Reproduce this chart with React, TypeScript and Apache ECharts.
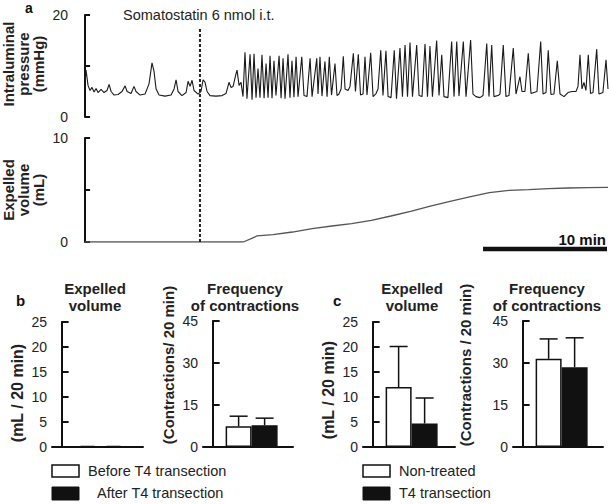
import React, { useEffect, useRef } from "react";
import * as echarts from "echarts";

const FONT = "'Liberation Sans', Arial, sans-serif";
const INK = "#111";

// ---------- Panel a ----------
// Intraluminal pressure trace: [time (min), pressure (mmHg)]
const pressureTrace: [number, number][] = [
  [0, 7.0], [0.08, 9.2], [0.24, 6.2], [0.4, 5.2], [0.56, 5.8], [0.73, 4.9], [0.89, 5.6], [1.05, 4.8],
  [1.29, 5.4], [1.53, 4.8], [1.77, 5.2], [1.94, 6.4], [2.1, 5.0], [2.34, 4.3], [2.66, 4.4], [2.98, 5.0],
  [3.23, 6.1], [3.39, 5.0], [3.71, 4.6], [3.95, 6.0], [4.11, 5.0], [4.44, 4.3], [4.84, 4.5], [5.16, 6.5],
  [5.4, 10.6], [5.56, 9.0], [5.73, 5.5], [5.97, 4.3], [6.45, 4.1], [6.94, 4.3], [7.18, 5.5], [7.34, 7.3],
  [7.5, 5.0], [7.82, 4.2], [8.15, 4.8], [8.31, 7.0], [8.47, 6.0], [8.63, 7.2], [8.79, 5.2], [9.11, 4.5],
  [9.35, 5.0], [9.52, 7.3], [9.68, 6.8], [9.84, 5.0], [10.08, 4.2], [10.56, 4.1], [11.05, 4.2], [11.37, 4.6],
  [11.61, 6.8], [11.77, 5.8], [11.94, 6.0], [12.18, 8.5], [12.26, 9.2], [12.42, 6.2], [12.58, 6.8],
  [12.74, 4.0], [12.9, 12.7], [13.06, 3.6], [13.31, 12.3], [13.47, 3.4], [13.63, 12.4], [13.79, 3.8],
  [13.95, 9.5], [14.11, 3.8], [14.27, 12.2], [14.44, 3.7], [14.6, 10.5], [14.76, 3.8], [14.92, 12.0],
  [15.08, 3.7], [15.24, 11.0], [15.4, 4.2], [15.65, 12.0], [15.81, 3.7], [15.97, 11.5], [16.13, 3.6],
  [16.37, 12.3], [16.53, 3.8], [16.69, 11.0], [16.85, 3.9], [17.02, 11.8], [17.18, 4.0],
  [17.48, 11.8], [17.66, 4.2], [17.9, 4.0], [18.15, 11.5], [18.31, 4.0], [18.69, 11.5], [18.79, 4.5],
  [18.95, 11.8], [19.11, 4.1], [19.35, 10.9], [19.52, 4.0], [19.7, 11.8], [19.88, 4.3], [20.16, 10.5],
  [20.32, 4.2], [20.48, 4.5], [20.65, 5.5], [20.83, 11.9], [20.97, 5.5], [21.21, 5.2], [21.37, 6.0],
  [21.64, 12.5], [21.81, 5.0], [22.04, 12.3], [22.22, 4.3], [22.42, 4.5], [22.58, 11.8], [22.74, 4.3],
  [23.04, 12.6], [23.23, 4.0], [23.47, 4.6], [23.63, 5.5], [23.85, 13.1], [24.03, 4.2], [24.27, 13.0],
  [24.44, 4.0], [24.68, 3.8], [24.94, 13.1], [25.12, 3.6], [25.4, 13.5], [25.6, 4.0], [25.81, 14.1],
  [26.01, 4.0], [26.21, 14.6], [26.41, 4.0], [26.75, 14.1], [26.94, 4.2], [27.18, 4.0], [27.42, 14.3],
  [27.62, 4.0], [27.82, 13.9], [28.02, 4.0], [28.36, 15.0], [28.55, 4.2], [28.77, 12.2], [28.95, 4.0],
  [29.27, 3.8], [29.57, 14.8], [29.76, 4.0], [29.98, 14.8], [30.16, 4.1], [30.51, 14.8], [30.73, 4.0],
  [31.1, 15.1], [31.29, 4.5], [31.53, 4.0], [31.85, 3.8], [32.1, 4.2], [32.4, 14.4], [32.58, 4.0],
  [32.8, 14.1], [32.98, 4.0], [33.31, 4.2], [33.47, 4.5], [33.73, 14.1], [33.95, 4.0], [34.19, 4.2],
  [34.54, 13.5], [34.76, 4.5], [35.08, 7.9], [35.24, 5.0], [35.48, 5.0], [35.75, 12.5], [35.97, 4.6],
  [36.21, 4.8], [36.45, 5.0], [36.75, 14.8], [36.94, 4.5], [37.18, 4.8], [37.36, 13.1], [37.58, 4.4],
  [37.82, 4.5], [38.09, 11.0], [38.31, 4.5], [38.63, 4.0], [38.95, 4.8], [39.27, 5.0], [39.6, 5.0],
  [39.76, 6.0], [39.92, 12.2], [40.08, 5.5], [40.24, 6.8], [40.4, 5.2], [40.59, 12.2], [40.77, 4.6],
  [40.97, 4.8], [41.27, 13.3], [41.45, 4.5], [41.77, 4.8], [42.02, 11.2], [42.18, 5.5],
];

// Cumulative expelled volume: [time (min), volume (mL)]
const volumeTrace: [number, number][] = [
  [0, 0], [12.77, 0], [13.88, 0.58], [15.15, 0.7], [16.73, 0.96], [18.32, 1.28], [19.91, 1.54],
  [21.5, 1.76], [23.09, 2.08], [24.67, 2.5], [26.26, 2.95], [27.85, 3.46], [29.44, 3.9], [31.02, 4.33],
  [32.61, 4.74], [34.2, 4.97], [35.78, 5.03], [37.37, 5.13], [38.96, 5.19], [40.55, 5.22], [42.18, 5.26],
];

const injectionTime = 9.27; // min
const injectionLabel = "Somatostatin 6 nmol i.t.";
const scaleBarStart = 32.1; // min
const scaleBarLength = 10; // min
const timeMin = -0.73;
const timeMax = 42.18;

// ---------- Panels b & c ----------
const bGroups = ["Before T4 transection", "After T4 transection"];
const bVolumeMean = [0.2, 0.25];
const bFreqMean = [7.4, 7.8];
const bFreqUpper = [11.0, 10.3];

const cGroups = ["Non-treated", "T4 transection"];
const cVolumeMean = [12.0, 4.7];
const cVolumeUpper = [20.1, 9.8];
const cFreqMean = [31.5, 28.5];
const cFreqUpper = [38.6, 39.0];

const groupPos = [1, 2];
const barFills = ["#ffffff", INK];

const tickLabel = { fontSize: 14, color: "#222", fontFamily: FONT };

function barGrid(idx: number, max: number, interval: number, width: number) {
  const xAxis = {
    gridIndex: idx, type: "value", min: -0.37, max: -0.37 + width / 26,
    axisLine: { show: true, onZero: false, lineStyle: { color: INK, width: 2 } },
    axisTick: { show: false }, axisLabel: { show: false }, splitLine: { show: false },
  };
  const yAxis = {
    gridIndex: idx, type: "value", min: 0, max, interval,
    axisLine: { show: true, lineStyle: { color: INK, width: 2 } },
    axisTick: { show: true, inside: true, length: 7, lineStyle: { color: INK, width: 2 } },
    axisLabel: { ...tickLabel, margin: 5 },
    splitLine: { show: false },
  };
  return { xAxis, yAxis };
}

function barSeries(idx: number, means: number[], barWidth: number) {
  return {
    type: "bar", xAxisIndex: idx, yAxisIndex: idx, barWidth,
    itemStyle: { borderColor: INK, borderWidth: 1.5 },
    data: means.map((m, i) => ({ value: [groupPos[i], m], itemStyle: { color: barFills[i] } })),
    z: 3,
  };
}

function errorSeries(idx: number, means: number[], uppers: number[]) {
  return {
    type: "custom", xAxisIndex: idx, yAxisIndex: idx, z: 4,
    encode: { x: 0, y: [1, 2] },
    data: means.map((m, i) => [groupPos[i], m, uppers[i]]),
    renderItem: (_p: any, api: any) => {
      const x = api.value(0), m = api.value(1), u = api.value(2);
      const p0 = api.coord([x, m]);
      const p1 = api.coord([x, u]);
      const st = { stroke: INK, lineWidth: 1.5 };
      return {
        type: "group",
        children: [
          { type: "line", shape: { x1: p0[0], y1: p0[1], x2: p1[0], y2: p1[1] }, style: st },
          { type: "line", shape: { x1: p1[0] - 9, y1: p1[1], x2: p1[0] + 9, y2: p1[1] }, style: st },
        ],
      };
    },
  };
}

function txt(x: number, y: number, text: string, opts: any = {}) {
  const { rotation, ...style } = opts;
  return {
    type: "text", x, y, rotation: rotation || 0, silent: true,
    style: {
      text, fill: "#222", fontFamily: FONT, fontSize: 14,
      align: "left", verticalAlign: "middle", textAlign: "left", textVerticalAlign: "middle",
      ...style,
    },
  };
}

function centered(x: number, y: number, text: string, opts: any = {}) {
  return txt(x, y, text, { align: "center", textAlign: "center", ...opts });
}

export default function App() {
  const ref = useRef<HTMLDivElement>(null);
  useEffect(() => {
    if (!ref.current) return;
    const chart = echarts.init(ref.current, undefined, { renderer: "svg" });

    const g2 = barGrid(2, 25, 5, 91);
    const g3 = barGrid(3, 45, 15, 90);
    const g4 = barGrid(4, 25, 5, 92);
    const g5 = barGrid(5, 45, 15, 90);

    const traceX = (idx: number) => ({
      gridIndex: idx, type: "value", min: timeMin, max: timeMax, show: false,
    });

    const titleStyle = { fontWeight: "bold", fontSize: 15, lineHeight: 17 };

    const option: any = {
      animation: false,
      backgroundColor: "#fff",
      textStyle: { fontFamily: FONT },
      grid: [
        { left: 76, top: 15, width: 532, height: 102 },
        { left: 76, top: 138, width: 532, height: 104 },
        { left: 52, top: 322, width: 91, height: 125 },
        { left: 203, top: 321, width: 90, height: 126 },
        { left: 363, top: 322, width: 92, height: 125 },
        { left: 513, top: 321, width: 90, height: 126 },
      ],
      xAxis: [traceX(0), traceX(1), g2.xAxis, g3.xAxis, g4.xAxis, g5.xAxis],
      yAxis: [
        {
          gridIndex: 0, type: "value", min: 0, max: 20, interval: 10,
          axisLine: { show: true, lineStyle: { color: INK, width: 2 } },
          axisTick: { show: true, inside: true, length: 5, lineStyle: { color: INK, width: 2 } },
          axisLabel: { ...tickLabel, margin: 8, formatter: (v: number) => (v === 10 ? "" : String(v)) },
          splitLine: { show: false },
        },
        {
          gridIndex: 1, type: "value", min: 0, max: 10, interval: 5,
          axisLine: { show: true, lineStyle: { color: INK, width: 2 } },
          axisTick: { show: true, inside: true, length: 5, lineStyle: { color: INK, width: 2 } },
          axisLabel: { ...tickLabel, margin: 8, formatter: (v: number) => (v === 5 ? "" : String(v)) },
          splitLine: { show: false },
        },
        g2.yAxis, g3.yAxis, g4.yAxis, g5.yAxis,
      ],
      series: [
        {
          type: "line", xAxisIndex: 0, yAxisIndex: 0, data: pressureTrace, showSymbol: false,
          lineStyle: { color: "#1a1a1a", width: 1.1 }, z: 2,
        },
        {
          type: "line", xAxisIndex: 1, yAxisIndex: 1, data: volumeTrace, showSymbol: false,
          lineStyle: { color: "#555", width: 1.3 }, z: 2,
        },
        {
          // injection marker spanning both traces
          type: "line", xAxisIndex: 1, yAxisIndex: 1, clip: false, showSymbol: false,
          data: [[injectionTime, 0], [injectionTime, 20.6]],
          lineStyle: { color: "#222", width: 2, type: [3, 2] }, z: 3,
        },
        {
          // 10 min scale bar
          type: "line", xAxisIndex: 1, yAxisIndex: 1, clip: false, showSymbol: false,
          data: [[scaleBarStart, -0.67], [scaleBarStart + scaleBarLength, -0.67]],
          lineStyle: { color: INK, width: 4.5, cap: "butt" }, z: 3,
        },
        barSeries(2, bVolumeMean, 15),
        barSeries(3, bFreqMean, 26),
        errorSeries(3, bFreqMean, bFreqUpper),
        barSeries(4, cVolumeMean, 26),
        errorSeries(4, cVolumeMean, cVolumeUpper),
        barSeries(5, cFreqMean, 26),
        errorSeries(5, cFreqMean, cFreqUpper),
      ],
      graphic: [
        txt(25, 8, "a", { fontWeight: "bold", fontSize: 14, fill: INK }),
        txt(123, 15, injectionLabel, { fontSize: 14.5 }),
        centered(23, 64, "Intraluminal\npressure\n(mmHg)", { fontWeight: "bold", fontSize: 15, lineHeight: 15, rotation: Math.PI / 2 }),
        centered(23, 190, "Expelled\nvolume\n(mL)", { fontWeight: "bold", fontSize: 15, lineHeight: 15, rotation: Math.PI / 2 }),
        txt(606, 239, `${scaleBarLength} min`, { fontWeight: "bold", fontSize: 15, align: "right", textAlign: "right", fill: INK }),

        txt(16, 300, "b", { fontWeight: "bold", fontSize: 15, fill: INK }),
        centered(95, 297, "Expelled\nvolume", titleStyle),
        centered(245, 297, "Frequency\nof contractions", titleStyle),
        centered(17, 393, "(mL / 20 min)", { fontWeight: "bold", fontSize: 16, rotation: Math.PI / 2 }),
        centered(168, 365, "(Contractions/ 20 min)", { fontWeight: "bold", fontSize: 15, rotation: Math.PI / 2 }),

        txt(333, 300, "c", { fontWeight: "bold", fontSize: 15, fill: INK }),
        centered(412, 297, "Expelled\nvolume", titleStyle),
        centered(547, 297, "Frequency\nof contractions", titleStyle),
        centered(328, 390, "(mL / 20 min)", { fontWeight: "bold", fontSize: 16, rotation: Math.PI / 2 }),
        centered(465, 365, "(Contractions / 20 min)", { fontWeight: "bold", fontSize: 15, rotation: Math.PI / 2 }),

        { type: "rect", shape: { x: 52, y: 465, width: 27, height: 12 }, style: { fill: "#fff", stroke: INK, lineWidth: 1.5 } },
        { type: "rect", shape: { x: 52, y: 487, width: 27, height: 13 }, style: { fill: INK, stroke: INK, lineWidth: 1 } },
        txt(88, 471, bGroups[0], { fontSize: 14.5 }),
        txt(97, 493, bGroups[1], { fontSize: 14.5 }),
        { type: "rect", shape: { x: 363, y: 465, width: 27, height: 12 }, style: { fill: "#fff", stroke: INK, lineWidth: 1.5 } },
        { type: "rect", shape: { x: 363, y: 487, width: 27, height: 13 }, style: { fill: INK, stroke: INK, lineWidth: 1 } },
        txt(399, 471, cGroups[0], { fontSize: 14.5 }),
        txt(399, 493, cGroups[1], { fontSize: 14.5 }),
      ],
    };
    chart.setOption(option);
    return () => chart.dispose();
  }, []);

  return (
    <div
      ref={ref}
      style={{ position: "fixed", left: 0, top: 0, width: 609, height: 504, background: "#fff" }}
    />
  );
}
